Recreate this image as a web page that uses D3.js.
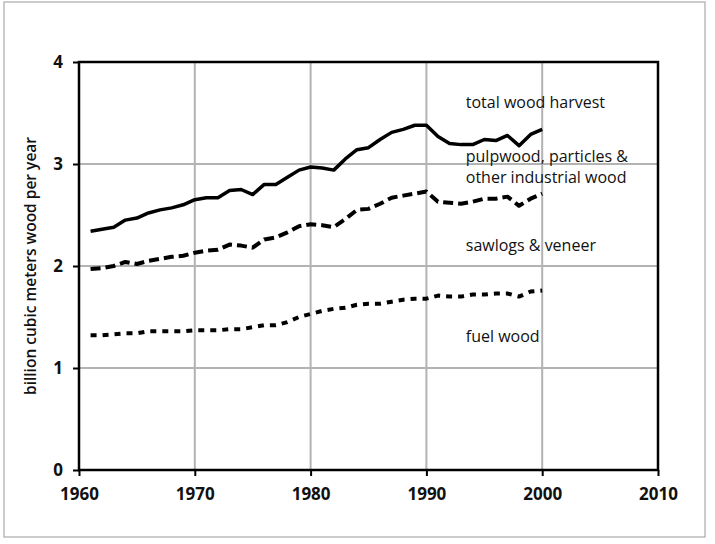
<!DOCTYPE html>
<html>
<head>
<meta charset="utf-8">
<script src="https://cdn.jsdelivr.net/npm/d3@7"></script>
<style>
  body { margin: 0; background: #fff; }
  svg { display: block; }
</style>
</head>
<body>
<svg width="715" height="544"></svg>
<script>
const years = d3.range(1961, 2001);

// cumulative lines: total, sawlogs + fuel, fuel
const totalHarvest = [2.34, 2.36, 2.38, 2.45, 2.47, 2.52, 2.55, 2.57, 2.60, 2.65,
  2.67, 2.67, 2.74, 2.75, 2.70, 2.80, 2.80, 2.87, 2.94, 2.97,
  2.96, 2.94, 3.05, 3.14, 3.16, 3.24, 3.31, 3.34, 3.38, 3.38,
  3.27, 3.20, 3.19, 3.19, 3.24, 3.23, 3.28, 3.18, 3.29, 3.34];
const sawlogsTop = [1.97, 1.98, 2.00, 2.04, 2.02, 2.05, 2.07, 2.09, 2.10, 2.13,
  2.15, 2.16, 2.21, 2.20, 2.18, 2.26, 2.28, 2.33, 2.39, 2.41,
  2.40, 2.38, 2.46, 2.55, 2.56, 2.61, 2.67, 2.69, 2.71, 2.73,
  2.63, 2.62, 2.61, 2.63, 2.66, 2.66, 2.68, 2.59, 2.66, 2.71];
const fuelWood = [1.32, 1.32, 1.33, 1.34, 1.34, 1.36, 1.36, 1.36, 1.36, 1.37,
  1.37, 1.37, 1.38, 1.38, 1.40, 1.42, 1.42, 1.45, 1.50, 1.53,
  1.56, 1.58, 1.59, 1.62, 1.63, 1.63, 1.65, 1.67, 1.68, 1.68,
  1.71, 1.70, 1.70, 1.72, 1.72, 1.73, 1.73, 1.70, 1.75, 1.76];

const xTicks = [1960, 1970, 1980, 1990, 2000, 2010];
const yTicks = [0, 1, 2, 3, 4];
const labels = [
  { lines: ['total wood harvest'], value: 3.55 },
  { lines: ['pulpwood, particles &', 'other industrial wood'], value: 3.02 },
  { lines: ['sawlogs & veneer'], value: 2.15 },
  { lines: ['fuel wood'], value: 1.255 }
];

const svg = d3.select('svg');
const width = +svg.attr('width');
const height = +svg.attr('height');

const margin = { left: 79, right: 57, top: 62, bottom: 74 };

const x = d3.scaleLinear()
  .domain([1960, 2010])
  .range([margin.left, width - margin.right]);

const y = d3.scaleLinear()
  .domain([0, 4])
  .range([height - margin.bottom, margin.top]);

// faint outer frame of the picture
svg.append('rect')
  .attr('x', 4)
  .attr('y', 2)
  .attr('width', 701)
  .attr('height', 535)
  .attr('fill', 'none')
  .attr('stroke', '#aaa')
  .attr('stroke-width', 1.2);

// grid
svg.append('g')
  .selectAll('line')
  .data(xTicks.slice(1, -1))
  .join('line')
  .attr('x1', d => x(d))
  .attr('x2', d => x(d))
  .attr('y1', y(0))
  .attr('y2', y(4))
  .attr('stroke', '#b3b3b3')
  .attr('stroke-width', 2);

svg.append('g')
  .selectAll('line')
  .data(yTicks.slice(1, -1))
  .join('line')
  .attr('x1', x(1960))
  .attr('x2', x(2010))
  .attr('y1', d => y(d))
  .attr('y2', d => y(d))
  .attr('stroke', '#b3b3b3')
  .attr('stroke-width', 2);

// axes
const xAxis = svg.append('g')
  .attr('transform', `translate(0,${y(0)})`)
  .call(d3.axisBottom(x).tickValues(xTicks).tickFormat(d3.format('d')).tickSize(6).tickPadding(12));

const yAxis = svg.append('g')
  .attr('transform', `translate(${x(1960)},0)`)
  .call(d3.axisLeft(y).tickValues(yTicks).tickFormat(d3.format('d')).tickSize(6).tickPadding(10));

[xAxis, yAxis].forEach(a => {
  a.select('.domain').remove();
  a.selectAll('line').attr('stroke', '#000').attr('stroke-width', 2);
  a.selectAll('text')
    .attr('fill', '#111')
    .style('font-family', '"Open Sans", sans-serif')
    .style('font-weight', 700)
    .style('font-size', '17px');
});

// plot frame
svg.append('rect')
  .attr('x', x(1960))
  .attr('y', y(4))
  .attr('width', x(2010) - x(1960))
  .attr('height', y(0) - y(4))
  .attr('fill', 'none')
  .attr('stroke', '#000')
  .attr('stroke-width', 2.5);

svg.append('text')
  .attr('transform', `translate(36,${(y(0) + y(4)) / 2}) rotate(-90)`)
  .attr('text-anchor', 'middle')
  .style('font-family', '"Open Sans", sans-serif')
  .style('font-weight', 600)
  .style('font-size', '15.5px')
  .attr('fill', '#111')
  .text('billion cubic meters wood per year');

// series
const line = d3.line()
  .x((d, i) => x(years[i]))
  .y(d => y(d));

const series = [
  { values: totalHarvest, dash: null, w: 3.5 },
  { values: sawlogsTop, dash: '10,5', w: 4 },
  { values: fuelWood, dash: '6,6', w: 4 }
];

svg.append('g')
  .selectAll('path')
  .data(series)
  .join('path')
  .attr('d', d => line(d.values))
  .attr('fill', 'none')
  .attr('stroke', '#000')
  .attr('stroke-width', d => d.w)
  .attr('stroke-dasharray', d => d.dash)
  .attr('stroke-linejoin', 'round');

// labels
const lab = svg.append('g')
  .style('font-family', '"Open Sans", sans-serif')
  .style('font-size', '16px')
  .attr('fill', '#111');

labels.forEach(l => {
  const t = lab.append('text')
    .attr('x', x(1993.4))
    .attr('y', y(l.value));
  l.lines.forEach((s, i) => {
    t.append('tspan')
      .attr('x', x(1993.4))
      .attr('dy', i === 0 ? 0 : 21)
      .text(s);
  });
});
</script>
</body>
</html>
